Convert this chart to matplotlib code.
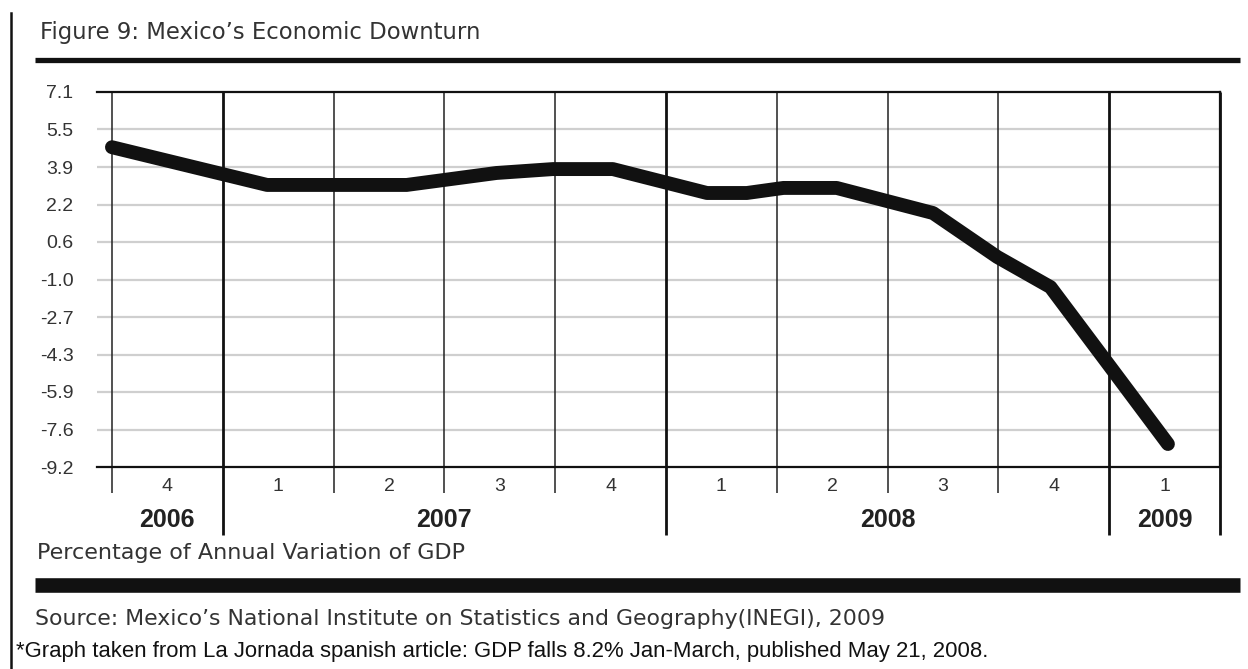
import matplotlib.pyplot as plt
import matplotlib.transforms as mtransforms
from matplotlib.lines import Line2D

# GDP annual variation (%) traced along the quarter grid
quarter_pos = [0.0, 1.40, 2.66, 3.47, 3.98, 4.52, 5.37, 5.73, 6.06, 6.54, 7.41, 7.99, 8.47, 9.01, 9.53]
gdp_var = [4.7, 3.06, 3.06, 3.58, 3.75, 3.75, 2.71, 2.71, 2.93, 2.93, 1.84, -0.07, -1.38, -4.85, -8.2]

ytick_labels = ['-9.2', '-7.6', '-5.9', '-4.3', '-2.7', '-1.0', '0.6', '2.2', '3.9', '5.5', '7.1']
quarters = ['4', '1', '2', '3', '4', '1', '2', '3', '4', '1']
years = ['2006', '2007', '2008', '2009']
year_centers = [0.5, 3.0, 7.0, 9.5]
year_bounds = [1, 5, 9, 10]
quarter_bounds = [0, 2, 3, 4, 6, 7, 8]

W, H = 1248, 669
fig = plt.figure(figsize=(W / 100, H / 100), dpi=100)
fig.patch.set_facecolor('white')

def fx(px):
    return px / W

def fy(py):
    return 1 - py / H

ax = fig.add_axes([fx(97), fy(467), fx(1220) - fx(97), fy(92) - fy(467)])
ax.set_xlim(-0.135, 10)
ax.set_ylim(-9.2, 7.1)

# evenly spaced horizontal grid, labelled with the rounded values
yt = [-9.2 + i * 16.3 / 10 for i in range(11)]
for y in yt[1:-1]:
    ax.axhline(y, color='#cfcfcf', lw=1.6, zorder=1)
ax.set_yticks(yt)
ax.set_yticklabels(ytick_labels)
ax.tick_params(axis='y', length=0, pad=17, labelsize=14, labelcolor='#333333')
ax.set_xticks([])
ax.spines['left'].set_visible(False)
for name in ['top', 'bottom', 'right']:
    ax.spines[name].set_color('#111111')
    ax.spines[name].set_linewidth(1.6)
for lbl in ax.get_yticklabels():
    lbl.set_family('Liberation Sans')

trans = mtransforms.blended_transform_factory(ax.transData, ax.transAxes)
for xb in quarter_bounds:
    ax.plot([xb, xb], [1, -0.07], color='#222222', lw=1.1, transform=trans,
            clip_on=False, zorder=2, solid_capstyle='butt')
for xb in year_bounds:
    ax.plot([xb, xb], [1, -0.181], color='#111111', lw=2.0, transform=trans,
            clip_on=False, zorder=2, solid_capstyle='butt')

ax.plot(quarter_pos, gdp_var, color='#111111', lw=10, solid_capstyle='round',
        solid_joinstyle='round', zorder=3)

for i, q in enumerate(quarters):
    ax.text(i + 0.5, -0.053, q, transform=trans, ha='center', va='center',
            fontsize=14, color='#333333', family='Liberation Sans')
for yr, xc in zip(years, year_centers):
    ax.text(xc, -0.141, yr, transform=trans, ha='center', va='center',
            fontsize=18, fontweight='bold', color='#222222', family='Liberation Sans')

# frame, rules and captions
fig.add_artist(Line2D([fx(11), fx(11)], [fy(13), fy(669)], color='#111111', lw=1.8))
fig.add_artist(Line2D([fx(35), fx(1240)], [fy(60), fy(60)], color='#111111', lw=3.8,
                      solid_capstyle='butt'))
fig.add_artist(Line2D([fx(35), fx(1240)], [fy(585), fy(585)], color='#111111', lw=10.5,
                      solid_capstyle='butt'))

fig.text(fx(40), fy(32), 'Figure 9: Mexico\u2019s Economic Downturn', ha='left', va='center',
         fontsize=16.4, color='#333333', family='DejaVu Sans')
fig.text(fx(37), fy(553), 'Percentage of Annual Variation of GDP', ha='left', va='center',
         fontsize=16, color='#333333', family='DejaVu Sans')
fig.text(fx(35), fy(619), 'Source: Mexico\u2019s National Institute on Statistics and Geography(INEGI), 2009',
         ha='left', va='center', fontsize=15.85, color='#333333', family='DejaVu Sans')
fig.text(fx(16), fy(651),
         '*Graph taken from La Jornada spanish article: GDP falls 8.2% Jan-March, published May 21, 2008.',
         ha='left', va='center', fontsize=15.9, color='#111111', family='Liberation Sans')

fig.savefig('out.png', dpi=100, facecolor='white')
